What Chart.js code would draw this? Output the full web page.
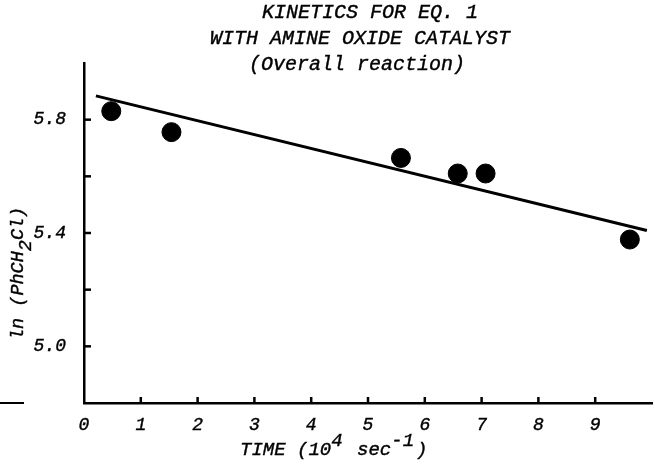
<!DOCTYPE html>
<html>
<head>
<meta charset="utf-8">
<script src="https://cdn.jsdelivr.net/npm/chart.js@4.4.1/dist/chart.umd.min.js"></script>
<style>
    html, body { margin:0; padding:0; background:#fff; }
    #wrap { width:655px; height:470px; }
</style>
</head>
<body>
<div id="wrap"><canvas id="kinetics"></canvas></div>
<script>

// DATA

const times = [0.48, 1.54, 5.58, 6.58, 7.07, 9.61];
const lnValues = [5.83, 5.756, 5.665, 5.61, 5.61, 5.377];

const fitTimes = [0.21, 9.91];
const fitValues = [5.884, 5.409];

const xTicks = [0, 1, 2, 3, 4, 5, 6, 7, 8, 9];
const yTickLabels = [5.0, 5.4, 5.8];

const titleLines = [
    "KINETICS FOR EQ. 1",
    "WITH AMINE OXIDE CATALYST",
    "(Overall reaction)"
];

const FONT = "'Liberation Mono', 'Courier New', monospace";

// DRAWING HELPERS

function drawParts(ctx, parts, x, y){

    parts.forEach(p => {
        ctx.font = "italic " + p.size + "px " + FONT;
        ctx.strokeText(p.text, x, y + p.shift);
        ctx.fillText(p.text, x, y + p.shift);
        x += ctx.measureText(p.text).width + (p.gap || 0);
    });
}

const decorPlugin = {

    id:"decor",

    afterDraw(chart){

        const ctx = chart.ctx;
        const xs = chart.scales.x;
        const ys = chart.scales.y;

        ctx.save();
        ctx.strokeStyle = "#000";
        ctx.fillStyle = "#000";
        ctx.lineWidth = 2.5;

        // inward tick marks
        ys.ticks.forEach(t => {
            if(t.value <= 4.81 || t.value >= 5.99) return;
            const py = ys.getPixelForValue(t.value);
            ctx.beginPath();
            ctx.moveTo(xs.left, py);
            ctx.lineTo(xs.left + 7, py);
            ctx.stroke();
        });

        xs.ticks.forEach(t => {
            if(t.value <= 0 || t.value >= 10) return;
            const px = xs.getPixelForValue(t.value);
            ctx.beginPath();
            ctx.moveTo(px, ys.bottom);
            ctx.lineTo(px, ys.bottom - 6);
            ctx.stroke();
        });

        // stray rule at the far left of the baseline
        ctx.lineWidth = 2;
        ctx.beginPath();
        ctx.moveTo(0, ys.bottom);
        ctx.lineTo(24, ys.bottom);
        ctx.stroke();

        // title
        ctx.lineWidth = 0.4;
        ctx.textBaseline = "alphabetic";
        ctx.textAlign = "left";
        ctx.font = "italic 20px " + FONT;
        const titleX = [262, 210, 249];
        titleLines.forEach((line, i) => {
            ctx.strokeText(line, titleX[i], 18 + i * 26);
            ctx.fillText(line, titleX[i], 18 + i * 26);
        });

        // x axis title
        drawParts(ctx, [
            {text:"TIME (10", size:19, shift:0},
            {text:"4", size:19, shift:-9, gap:3},
            {text:" sec", size:19, shift:0},
            {text:"-1", size:19, shift:-9, gap:2},
            {text:")", size:19, shift:0}
        ], 240, 455);

        // y axis title
        ctx.translate(23, 340);
        ctx.rotate(-Math.PI / 2);
        drawParts(ctx, [
            {text:"ln (PhCH", size:18.5, shift:0},
            {text:"2", size:18.5, shift:8},
            {text:"Cl)", size:18.5, shift:0}
        ], 0, 0);

        ctx.restore();
    }
};

// CHART

const tickFont = {family:FONT, size:18, style:"italic"};

new Chart(document.getElementById("kinetics"),{

    type:"scatter",

    data:{

        datasets:[
            {
                data: times.map((t, i) => ({x:t, y:lnValues[i]})),
                backgroundColor:"#000",
                borderColor:"#000",
                pointRadius:9.5,
                pointHoverRadius:9.5
            },
            {
                type:"line",
                data: fitTimes.map((t, i) => ({x:t, y:fitValues[i]})),
                borderColor:"#000",
                borderWidth:3,
                pointRadius:0,
                fill:false
            }
        ]
    },

    options:{

        responsive:true,
        maintainAspectRatio:false,
        animation:false,

        layout:{
            autoPadding:false,
            padding:{top:63, right:0, bottom:0, left:0}
        },

        plugins:{
            legend:{display:false},
            tooltip:{enabled:false}
        },

        scales:{

            x:{
                type:"linear",
                min:0,
                max:10,
                afterFit(scale){ scale.height = 67; },
                afterBuildTicks(scale){
                    scale.ticks = xTicks.concat([10]).map(v => ({value:v}));
                },
                grid:{display:false},
                border:{display:true, color:"#000", width:2.5},
                ticks:{
                    color:"#000",
                    padding:3,
                    maxRotation:0,
                    autoSkip:false,
                    textStrokeColor:"#000",
                    textStrokeWidth:0.4,
                    font:tickFont,
                    callback:(v) => xTicks.includes(v) ? String(v) : ""
                }
            },

            y:{
                min:4.8,
                max:6.0,
                afterFit(scale){ scale.width = 84; },
                grid:{display:false},
                border:{display:true, color:"#000", width:2.5},
                ticks:{
                    stepSize:0.2,
                    color:"#000",
                    padding:10,
                    autoSkip:false,
                    textStrokeColor:"#000",
                    textStrokeWidth:0.4,
                    font:tickFont,
                    callback:(v) => {
                        const hit = yTickLabels.find(l => Math.abs(l - v) < 0.001);
                        return hit === undefined ? "" : hit.toFixed(1);
                    }
                }
            }
        }
    },

    plugins:[decorPlugin]
});

</script>
</body>
</html>
